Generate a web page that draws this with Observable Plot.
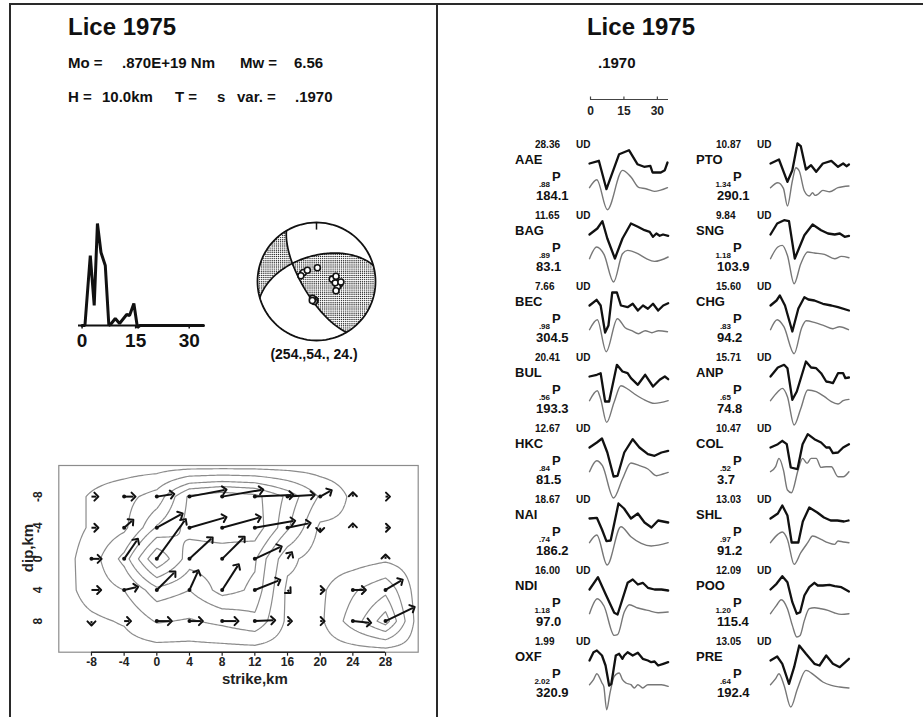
<!DOCTYPE html>
<html><head><meta charset="utf-8">
<script src="https://cdn.jsdelivr.net/npm/d3@7"></script>
<script src="https://cdn.jsdelivr.net/npm/@observablehq/plot@0.6"></script>
<style>
body{margin:0;background:#fff;}
#page{position:relative;width:923px;height:717px;overflow:hidden;background:#fff;font-family:"Liberation Sans",Arial,Helvetica,sans-serif;font-weight:bold;color:#111;}
.t{position:absolute;white-space:pre;line-height:1;}
.ln{position:absolute;background:#2a2a2a;}
svg{font-family:"Liberation Sans",Arial,Helvetica,sans-serif;}
</style></head><body><div id="page"></div>
<script>
// ---------------- DATA ----------------
const eventTitle = "Lice 1975";
const headerLine1 = [["Mo =", 68], [".870E+19 Nm", 122], ["Mw =", 240], ["6.56", 294]];
const headerLine2 = [["H =", 68], ["10.0km", 102], ["T =", 175], ["s", 217], ["var. =", 237], [".1970", 295]];
const varianceText = ".1970";

// source time function (s, relative amplitude)
const stfTime = [0, 0.8, 2.3, 3.4, 4.3, 5.3, 6.5, 7.5, 8.2, 9.3, 10.5, 12.5, 13.3, 14.5, 15.5, 16.2, 34];
const stfAmp  = [0, 0, 70, 20, 102, 73, 60, 0, 2, 7, 2, 11, 10, 22, -2, 0, 0];
const stfTicks = [0, 15, 30];

// focal mechanism (strike, dip, rake)
const mech = [254, 54, 24];
const mechLabel = "(254.,54., 24.)";

// slip map grid
const strikeCols = [-8, -4, 0, 4, 8, 12, 16, 20, 24, 28];
const dipRows = [-8, -4, 0, 4, 8];
const slipDx = [
  [0.6, 1.15, 1.9, 4.3, 4.8, 4.5, 3.1, 1.2, 0, 0.3],
  [0.6, 0.94, 2.95, 4.3, 4.5, 4.7, 2.6, 0, 0, 0.3],
  [1.0, 1.55, 3.4, 2.66, 2.58, 3.07, 0.4, 0, 0, 0],
  [0.94, 1.47, 2.1, 1.0, 1.9, 2.9, 0.2, 0.3, 1.35, 1.9],
  [0, 0.6, 1.6, 1.4, 1.76, 2.25, 0.3, 0.3, 2.0, 3.35]
];
const slipDy = [
  [0, 0, -0.3, -0.86, -0.86, -0.2, -0.2, -0.7, -0.3, 0],
  [0, -0.86, -1.72, -1.3, -1.3, -0.86, -0.56, 0.3, -0.3, 0],
  [0, -2.36, -4.9, -2.58, -2.67, -1.5, -0.65, 0, 0, -0.3],
  [0, -0.34, -2.2, -2.3, -3.1, -1.2, 0.2, 0, 0, -1.2],
  [0.3, 0, 0, 0, 0, -0.1, 0, 0, 0.2, -1.7]
];
const contourLevels = [0.5, 1.5, 2.5, 3.3, 4.2, 5.1];
const strikeTicks = [-8, -4, 0, 4, 8, 12, 16, 20, 24, 28];
const dipTicks = [-8, -4, 0, 4, 8];

// stations
const stationNames = ["AAE","BAG","BEC","BUL","HKC","NAI","NDI","OXF","PTO","SNG","CHG","ANP","COL","SHL","POO","PRE"];
const ampMax   = [28.36,11.65,7.66,20.41,12.67,18.67,16.00,1.99,10.87,9.84,15.60,15.71,10.47,13.03,12.09,13.05];
const weights  = [0.88,0.89,0.98,0.56,0.84,0.74,1.18,2.02,1.34,1.18,0.83,0.65,0.52,0.97,1.20,0.64];
const azimuths = [184.1,83.1,304.5,193.3,81.5,186.2,97.0,320.9,290.1,103.9,94.2,74.8,3.7,91.2,115.4,192.4];
const takeoffs = [26,24,22,24,22,28,32,20,23,30,26,28,19,34,30,27];
const scaleTicks = [0, 15, 30];

// observed traces [time s, amplitude]
const obsTraces = [
 [[0,0],[4.2,2.7],[7.6,-25.7],[13.3,9.3],[17.7,13.3],[21.5,-0.7],[24.5,-3.3],[27.3,-2.3],[28.3,-9],[32,-9],[33.8,-6.7],[35,1]],
 [[0,0],[3.5,6],[5.8,13.3],[8,-4],[11.4,-24],[14.8,-4],[18.6,11],[21.7,7.7],[24.7,4.3],[27,2.7],[28.5,-2.3],[30,1],[31.5,-1.3],[33,0],[35.3,-1.3]],
 [[0,0],[3.2,5.7],[5,0],[7,-27],[8.5,-20],[10.2,13],[12.3,13],[14.1,0],[17.1,-1.7],[19.4,1.7],[21.7,-5],[24,0],[26.2,-3.3],[28.5,1.7],[30.8,-5],[33.1,0],[35.3,2.3]],
 [[0,0],[3.3,1.7],[5,3.3],[7,-25],[8.8,-25],[12.3,11.7],[14.8,5],[17.1,3.3],[18.6,-1.7],[21.7,-8.3],[25,1.7],[28.5,-10],[31.5,-3.3],[33.8,0],[35.3,-2.7]],
 [[0,0],[3.3,5],[5.6,9],[8,-5],[10.8,-29],[12.6,-28.3],[15.6,-5],[19.4,8.3],[22.4,0],[26.2,-6.7],[29.2,-8.3],[32.3,-5],[35.3,-3.3]],
 [[0,0],[3.3,0.7],[5.6,-11],[7.6,-22.7],[9.5,-22],[13,15],[15.5,10],[18.6,0],[21.7,5],[24.7,-4],[27.8,-9],[30.8,-2],[35.3,-4]],
 [[0,0],[3.8,12.3],[7.3,-5],[11.1,-23.3],[12.6,-25],[17.1,6.7],[19.4,10],[21.7,5],[23.9,6.7],[26.2,1.7],[29.2,0],[32.3,0],[35.3,-1]],
 [[0,0],[1.8,8.3],[3.3,10],[5.6,5],[7.2,-5],[8.8,-25],[9.8,-23.3],[11.8,5],[13.3,6.7],[14.8,1.7],[15.6,5],[17.1,8.3],[19.4,5],[21.7,7.7],[23.9,1.7],[26.2,0],[27.7,-1.7],[29.2,-1],[30.8,-5],[33.1,-3.3],[35.3,-1.7]],
 [[0,0],[3.8,4],[7.6,-18.3],[9.8,-6.7],[12.1,20],[13.6,17.3],[15.9,-6],[18.2,-1.7],[20.5,-8.3],[23.5,0],[27.3,2.7],[30.3,-3.3],[32.6,0],[34.1,-2.7],[35.2,-1]],
 [[0,0],[3,11],[6.1,14.3],[8.3,13.3],[10.9,-24],[15.2,-0.7],[18.9,10],[22.7,4.3],[25.8,1],[28.8,0],[31.1,1],[33.3,-2.3],[35.2,-1.3]],
 [[0,0],[2.7,5],[4.2,10],[6.5,0],[9.8,-26],[12.5,-3],[15.2,8.3],[17,6],[19.7,5],[23.5,1.7],[27.3,0],[30.3,-1.7],[35.2,-5]],
 [[0,0],[3.3,9],[6.1,11.7],[7.6,8.3],[9.8,-23.3],[11.8,-15],[15.9,15],[18.2,9],[20.5,8.3],[22.7,3.3],[25,-5],[26.5,-5.7],[28,-6.7],[30.3,3.3],[32.6,3.3],[33.6,-1.7],[35.2,-1]],
 [[0,0],[3.3,3.3],[5.3,6.7],[7.3,3.3],[9.1,-20],[12.1,-21.7],[14.4,3.3],[16.7,13.3],[19.7,8.3],[22.7,5],[25,0],[26.5,0],[28,-5.7],[30.3,-5],[32.6,0],[35.2,3.3]],
 [[0,0],[3.3,5],[5.3,13],[7.6,3],[9.5,-24],[12.5,-24],[14.5,-3],[17.4,11],[21,6],[24,1],[27,-2],[30,-2],[33,-3],[35,-2]],
 [[0,0],[2.7,5.7],[5.3,13.3],[7.6,7.3],[9.8,-12.7],[11.8,-24.3],[13.3,-22.7],[15.2,-6],[17.4,2.3],[19.7,6.7],[21.2,4],[23.5,4],[26.5,4.7],[28.8,3.3],[31.8,2.3],[35.2,-2]],
 [[0,0],[3,4],[5.3,-3.3],[8.3,-23.3],[10.6,-6.7],[12.9,15],[15.9,6.7],[19.7,-3.3],[22,-5],[25,5],[28,-3.3],[31.1,-6.7],[35.2,1.7]]
];
// synthetic traces [time s, amplitude]
const synTraces = [
 [[0,0],[3.3,8],[8,-22],[14.8,17.3],[18.6,10.7],[22.3,0],[25.3,-1],[29.1,-3.7],[35,0]],
 [[0,0],[3.2,11.7],[6.5,4.3],[10.8,-23.3],[14.8,5],[17.1,8.3],[21.7,5],[25.5,0],[29.2,-2.7],[35.3,1.7]],
 [[0,0],[3.5,10],[7.5,-22],[12.5,11],[16,2],[19,-1],[22,-4],[25,-1],[28,-3],[31,-1],[35,-2]],
 [[0,0],[3.5,10],[5,1.7],[7.7,-21.7],[11,-1.7],[14.1,15],[17.1,11.7],[20.2,6.7],[23.9,1.7],[29.2,-2.7],[35.3,0]],
 [[0,0],[3.2,11],[5.8,6],[10.8,-26.3],[14.8,-7.3],[18.6,8.7],[22.4,6],[26.2,2.7],[30,-4],[33,-2.3],[35.3,-0.7]],
 [[0,0],[3.3,7.7],[7.9,-22.3],[14.1,16],[18.6,6],[23.2,-0.7],[27.7,-3.3],[35.3,0]],
 [[0,0],[3.5,15],[6.5,7.7],[11.1,-21.7],[12.6,-21],[15.6,1.7],[17.9,9],[21.7,5.7],[26.2,3.3],[30.8,1],[35.3,1.7]],
 [[0,0],[1.8,5],[3.3,11],[5.6,1.7],[6.4,-1.7],[7.7,-25],[9.2,-8.3],[11.1,8.3],[13.3,11.7],[14.8,5],[16.4,1.7],[18.6,0],[20.1,-3.3],[21.7,0],[23.9,-3.3],[26.2,0],[29.2,0],[32.3,0],[35.3,-1.7]],
 [[0,0],[3.3,5],[5.8,-0.7],[7.6,-18.3],[9.8,6.7],[11.4,20],[12.9,16.7],[15.2,-3.3],[17.4,-8.3],[18.9,-5],[20,-7.7],[21.2,-6.7],[23.5,-2.7],[26.5,-4],[30.3,0],[35.2,1.7]],
 [[0,0],[3.3,11.7],[5.3,13.3],[7.6,3.3],[10.6,-25],[13.6,-5],[16.7,6.7],[19.7,5.7],[24.2,4.3],[28.8,0],[31.8,2.3],[35.2,1]],
 [[0,0],[3,10],[6,3],[10.6,-24],[14,2],[16,9],[20,7],[24,4],[28,1],[31,3],[35,0]],
 [[0,0],[3.3,9],[5.3,12.3],[7.6,4],[10.6,-24.3],[13.6,-7.7],[16.7,10.7],[20.5,9],[24.2,4],[27.3,-1],[30.3,-3.3],[32.6,0],[35.2,1.3]],
 [[0,0],[2.3,5],[3.8,13.3],[5.8,1.7],[7.6,-18.3],[9.4,-21],[12.4,1.7],[14.4,13.3],[16.4,8.3],[18.2,13.3],[20.5,13.3],[22.7,4.3],[25,5],[27.3,5],[30.3,-5],[32.6,-5],[35.2,0]],
 [[0,0],[3.3,8.3],[5.3,10.7],[7.6,3.3],[10.6,-21.7],[13.6,-10],[16.7,0],[18.9,6.7],[22.7,3.3],[25.8,0],[28.8,-1.7],[30.3,1.7],[32.6,0.7],[35.2,0]],
 [[0,0],[2.7,8.3],[4.8,14],[7.6,5],[9.8,-11.7],[11.8,-23.3],[13.3,-21.7],[15.2,-6.7],[17.4,5],[19.7,6],[22.7,5],[25.8,3.3],[28.8,0.7],[31.8,-0.7],[35.2,0]],
 [[0,0],[2.3,6],[3.8,11],[6.1,-0.7],[9.1,-22.3],[12.1,-4],[15.9,14.3],[19.7,9.3],[23.5,2.7],[27.3,-0.7],[31.1,-2.3],[35.2,-3.3]]
];

// ---------------- HELPERS ----------------
const page = document.getElementById("page");
const FONT = '"Liberation Sans",Arial,Helvetica,sans-serif';
function txt(s, x, base, size, align = "left") {
  const d = document.createElement("div");
  d.className = "t";
  d.textContent = s;
  d.style.fontSize = size + "px";
  d.style.top = (base - 0.847 * size) + "px";
  d.style.left = x + "px";
  if (align === "center") d.style.transform = "translateX(-50%)";
  if (align === "right") d.style.transform = "translateX(-100%)";
  page.appendChild(d);
  return d;
}
function place(svg, left, top) {
  svg.style.position = "absolute";
  svg.style.left = left + "px";
  svg.style.top = top + "px";
  svg.style.background = "none";
  svg.style.overflow = "visible";
  page.appendChild(svg);
}
function hline(x, y, w, h) { const d = document.createElement("div"); d.className = "ln"; Object.assign(d.style, {left: x + "px", top: y + "px", width: w + "px", height: h + "px"}); page.appendChild(d); }
const baseStyle = {background: "none", overflow: "visible", fontFamily: FONT};

// frame lines
hline(9, 3, 914, 2);
hline(9, 3, 2, 714);
hline(436, 3, 2, 714);

// ---------------- LEFT HEADER ----------------
txt(eventTitle, 68, 35, 24);
headerLine1.forEach(([s, x]) => txt(s, x, 68, 15));
headerLine2.forEach(([s, x]) => txt(s, x, 102, 15));

// ---------------- STF ----------------
const stf = stfTime.map((t, i) => ({t, a: stfAmp[i]}));
place(Plot.plot({
  width: 160, height: 152, marginLeft: 18, marginRight: 17, marginTop: 20, marginBottom: 22,
  style: baseStyle,
  x: {domain: [-1, 34], axis: null},
  y: {domain: [-5, 105], axis: null},
  marks: [
    Plot.ruleY([0], {x1: -1, x2: 34, stroke: "#111", strokeWidth: 2}),
    Plot.link(stfTicks, {x1: d => d, x2: d => d, y1: 0, y2: -3, stroke: "#111", strokeWidth: 1.5}),
    Plot.line(stf, {x: "t", y: "a", stroke: "#111", strokeWidth: 3, strokeLinejoin: "miter"}),
    Plot.text(stfTicks, {x: d => d, y: 0, dy: 15, text: d => String(d), fontSize: 19, fontWeight: "bold", fill: "#111"})
  ]
}), 60, 200);

// ---------------- BEACHBALL ----------------
const rad = Math.PI / 180;
function faultVectors(phi, del, lam) {
  phi *= rad; del *= rad; lam *= rad;
  const n = [-Math.sin(del) * Math.sin(phi), Math.sin(del) * Math.cos(phi), -Math.cos(del)];
  const d = [Math.cos(lam) * Math.cos(phi) + Math.cos(del) * Math.sin(lam) * Math.sin(phi),
             Math.cos(lam) * Math.sin(phi) - Math.cos(del) * Math.sin(lam) * Math.cos(phi),
             -Math.sin(lam) * Math.sin(del)];
  return {n, d};
}
const dot3 = (a, b) => a[0] * b[0] + a[1] * b[1] + a[2] * b[2];
const {n: fn, d: fd} = faultVectors(...mech);
function rayAt(x, y) {
  const r = Math.hypot(x, y);
  const inc = 2 * Math.asin(Math.min(1, r / Math.SQRT2));
  const az = Math.atan2(x, y);
  return [Math.sin(inc) * Math.cos(az), Math.sin(inc) * Math.sin(az), Math.cos(inc)];
}
function project(inc, az) { const r = Math.SQRT2 * Math.sin(inc / 2); return [r * Math.sin(az), r * Math.cos(az)]; }
const stipStep = 2.1 / 59;
const stipple = [];
for (const gx of d3.range(-1, 1.0001, stipStep)) for (const gy of d3.range(-1, 1.0001, stipStep)) {
  if (gx * gx + gy * gy > 0.975) continue;
  const g = rayAt(gx, gy);
  if (dot3(fn, g) * dot3(fd, g) > 0) stipple.push({x: gx, y: gy});
}
function planeCurve(phiDeg, delDeg, id) {
  const phi = phiDeg * rad, del = delDeg * rad;
  const s = [Math.cos(phi), Math.sin(phi), 0];
  const dv = [-Math.cos(del) * Math.sin(phi), Math.cos(del) * Math.cos(phi), Math.sin(del)];
  return d3.range(0, 180.01, 2).map(th => {
    const t = th * rad;
    const v = [0, 1, 2].map(k => Math.cos(t) * s[k] + Math.sin(t) * dv[k]);
    const inc = Math.acos(Math.max(-1, Math.min(1, v[2])));
    const [x, y] = project(inc, Math.atan2(v[1], v[0]));
    return {x, y, id};
  });
}
let u = fd.slice(); if (u[2] > 0) u = u.map(v => -v);
const auxDip = Math.acos(-u[2]) / rad, auxStrike = Math.atan2(-u[0], u[1]) / rad;
const planes = [...planeCurve(mech[0], mech[1], "p1"), ...planeCurve(auxStrike, auxDip, "p2")];
const circle = d3.range(0, 361, 3).map(a => ({x: Math.sin(a * rad), y: Math.cos(a * rad)}));
const stationPts = azimuths.map((az, i) => { const [x, y] = project(takeoffs[i] * rad, az * rad); return {x, y}; });
const bbR = 70 / 59;
place(Plot.plot({
  width: 140, height: 140, margin: 0, style: baseStyle,
  x: {domain: [-bbR, bbR], axis: null}, y: {domain: [-bbR, bbR], axis: null},
  marks: [
    Plot.dot(stipple, {x: "x", y: "y", r: 0.72, fill: "#2a2a2a", stroke: null}),
    Plot.line(planes, {x: "x", y: "y", z: "id", stroke: "#111", strokeWidth: 1.7}),
    Plot.line(circle, {x: "x", y: "y", stroke: "#111", strokeWidth: 1.8}),
    Plot.link([0], {x1: 0, x2: 0, y1: 1, y2: 0.88, stroke: "#111", strokeWidth: 1.5}),
    Plot.dot(stationPts, {x: "x", y: "y", r: 3, fill: "white", stroke: "#111", strokeWidth: 1.6})
  ]
}), 246, 211);
txt(mechLabel, 314, 359, 14, "center");

// ---------------- SLIP MAP ----------------
const arrows = [];
dipRows.forEach((y, i) => strikeCols.forEach((x, j) => {
  const dx = slipDx[i][j], dy = slipDy[i][j];
  const m = Math.hypot(dx, dy);
  if (m > 0) arrows.push({x, y, dx, dy, m});
}));
// contours of slip magnitude (grid padded with zero slip beyond the fault edges)
const padX = [-12, ...strikeCols, 32], padY = [-12, ...dipRows, 12];
function padMag(r, c) {
  if (r === 0 || c === 0 || r === padY.length - 1 || c === padX.length - 1) return 0;
  return Math.hypot(slipDx[r - 1][c - 1], slipDy[r - 1][c - 1]);
}
const cStep = 0.25, nx = Math.round(44 / cStep) + 1, ny = Math.round(24 / cStep) + 1;
const grid = new Float64Array(nx * ny);
for (let j = 0; j < ny; j++) for (let i = 0; i < nx; i++) {
  const fx = (i * cStep) / 4, fy = (j * cStep) / 4;
  const c0 = Math.min(padX.length - 2, Math.floor(fx)), r0 = Math.min(padY.length - 2, Math.floor(fy));
  const tx = fx - c0, ty = fy - r0;
  grid[j * nx + i] = (1 - tx) * (1 - ty) * padMag(r0, c0) + tx * (1 - ty) * padMag(r0, c0 + 1)
                   + (1 - tx) * ty * padMag(r0 + 1, c0) + tx * ty * padMag(r0 + 1, c0 + 1);
}
const contourPts = [];
d3.contours().size([nx, ny]).thresholds(contourLevels)(grid).forEach((mp, k) =>
  mp.coordinates.forEach((poly, pi) => poly.forEach((ring, ri) => ring.forEach(([gx, gy]) =>
    contourPts.push({x: -12 + (gx - 0.5) * cStep, y: -12 + (gy - 0.5) * cStep, id: `${k}-${pi}-${ri}`})))));

place(Plot.plot({
  width: 420, height: 240, marginLeft: 48.3, marginRight: 12.3, marginTop: 10, marginBottom: 43.3,
  style: baseStyle,
  x: {domain: [-12, 32], axis: null},
  y: {domain: [12, -12], axis: null},
  marks: [
    Plot.line(contourPts, {x: "x", y: "y", z: "id", stroke: "#8c8c8c", strokeWidth: 1.2}),
    Plot.frame({stroke: "#8c8c8c", strokeWidth: 1.2}),
    Plot.ruleY([12], {x1: -8, x2: 28, stroke: "#222", strokeWidth: 1.6}),
    Plot.link(strikeTicks, {x1: d => d, x2: d => d, y1: 12, y2: 12.45, stroke: "#222", strokeWidth: 1.2}),
    Plot.text(strikeTicks, {x: d => d, y: 12, dy: 10, text: d => String(d), fontSize: 12, fontWeight: "bold", fill: "#222"}),
    Plot.text(dipTicks, {x: -12, y: d => d, dx: -21, rotate: -90, text: d => String(d), fontSize: 12, fontWeight: "bold", fill: "#222"}),
    Plot.text(["dip,km"], {x: -12, y: -1.4, dx: -31, rotate: -90, text: d => d, fontSize: 15, fontWeight: "bold", fill: "#222"}),
    Plot.text(["strike,km"], {x: 12, y: 12, dy: 27, text: d => d, fontSize: 15, fontWeight: "bold", fill: "#222"}),
    Plot.link(arrows, {x1: "x", y1: "y", x2: d => d.x + d.dx, y2: d => d.y + d.dy, stroke: "#111", strokeWidth: 2, markerEnd: "arrow"}),
    Plot.dot(arrows.filter(d => d.m >= 1), {x: "x", y: "y", r: 2, fill: "#111", stroke: null})
  ]
}), 10, 455);

// ---------------- RIGHT HEADER ----------------
txt(eventTitle, 641, 35, 24, "center");
txt(varianceText, 598, 68, 15);
place(Plot.plot({
  width: 78, height: 40, margin: 0, style: baseStyle,
  x: {domain: [0, 35], axis: null}, y: {domain: [-10, 10], axis: null},
  marks: [
    Plot.ruleY([0], {x1: 0, x2: 35, stroke: "#444", strokeWidth: 1.2}),
    Plot.link(scaleTicks, {x1: d => d, x2: d => d, y1: 0, y2: 1.5, stroke: "#444", strokeWidth: 1.2}),
    Plot.text(scaleTicks, {x: d => d, y: 0, dy: 12, text: d => String(d), fontSize: 12, fontWeight: "bold", fill: "#222"})
  ]
}), 589.7, 79);

// ---------------- WAVEFORMS ----------------
const fmtW = w => w.toFixed(2).replace(/^0/, "");
stationNames.forEach((name, i) => {
  const col = i < 8 ? 0 : 1, row = i % 8;
  const ox = col * 181, y0 = 145 + 71 * row;
  txt(ampMax[i].toFixed(2), 535 + ox, y0 + 3.5, 10);
  txt("UD", 576 + ox, y0 + 3.5, 10);
  txt(name, 515 + ox, y0 + 19.5, 13);
  txt(fmtW(weights[i]), 550 + ox, y0 + 42.5, 8, "right");
  txt("P", 552 + ox, y0 + 36.5, 13);
  txt(azimuths[i].toFixed(1), 536 + ox, y0 + 55.5, 13);
  const obs = obsTraces[i].map(([t, a]) => ({t, a}));
  const syn = synTraces[i].map(([t, a]) => ({t, a}));
  place(Plot.plot({
    width: 78, height: 70, margin: 0, style: baseStyle,
    x: {domain: [0, 35], axis: null}, y: {domain: [-35, 35], axis: null},
    marks: [
      Plot.line(syn, {x: "t", y: "a", dy: 24.2, stroke: "#777", strokeWidth: 1.4, curve: "monotone-x"}),
      Plot.line(obs, {x: "t", y: "a", stroke: "#111", strokeWidth: 2.3, strokeLinejoin: "round"})
    ]
  }), 589 + ox, y0 + 17.7 - 35);
});
</script></body></html>
